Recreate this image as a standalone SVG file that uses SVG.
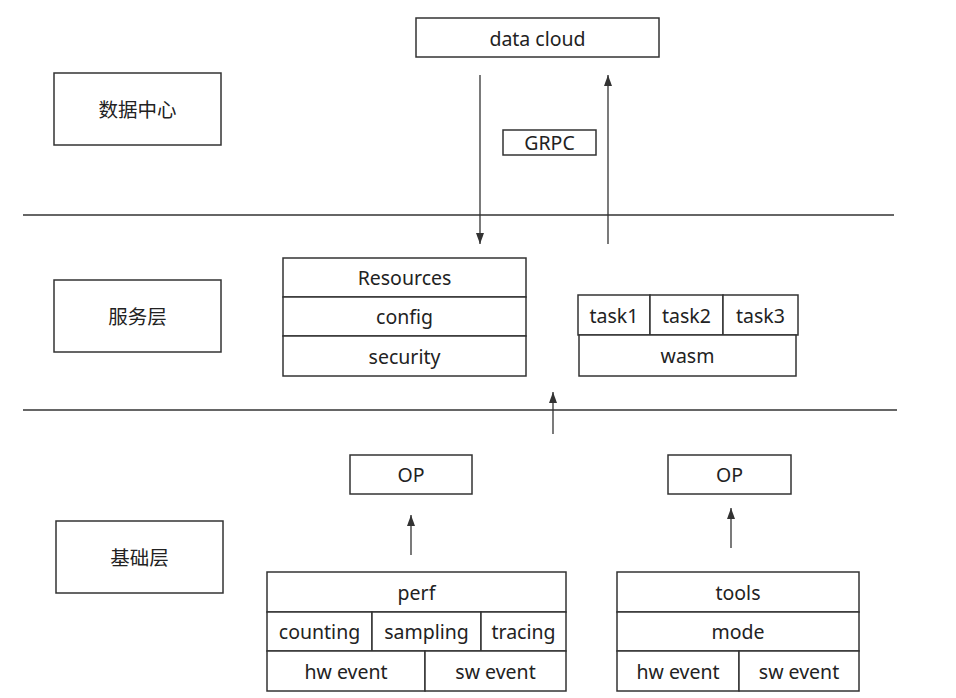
<svg xmlns="http://www.w3.org/2000/svg" width="956" height="698" viewBox="0 0 956 698">
<defs>
<marker id="ah" markerWidth="12" markerHeight="10" refX="11" refY="5" orient="auto" markerUnits="userSpaceOnUse" viewBox="0 0 12 10">
<path d="M0,1 L11,5 L0,9 Z" fill="#333"/>
</marker>
<style>
.b{fill:#fff;stroke:#333;stroke-width:1.5}
.t{font-family:"Noto Sans","Noto Sans CJK SC",sans-serif;font-size:19.5px;fill:#222;text-anchor:middle;dominant-baseline:central}
.l{stroke:#333;stroke-width:1.5;fill:none}
.a{stroke:#333;stroke-width:1.3;fill:none}
</style>
</defs>
<rect width="956" height="698" fill="#fff"/>
<g id="layers">
<line class="l" x1="23" y1="215" x2="894" y2="215"/>
<line class="l" x1="23" y1="410" x2="897" y2="410"/>
</g>
<g id="dc-label"><rect class="b" x="54" y="73" width="167" height="72"/><text class="t" x="137.5" y="109">数据中心</text></g>
<g id="svc-label"><rect class="b" x="54" y="280" width="167" height="72"/><text class="t" x="137.5" y="316">服务层</text></g>
<g id="base-label"><rect class="b" x="56" y="521" width="167" height="72"/><text class="t" x="139.5" y="557">基础层</text></g>
<g id="datacloud"><rect class="b" x="416" y="18" width="243" height="39"/><text class="t" x="537.5" y="38">data cloud</text></g>
<g id="grpc"><rect class="b" x="503" y="130" width="93" height="25"/><text class="t" x="549.5" y="142.5">GRPC</text></g>
<g id="resources">
<rect class="b" x="283" y="258" width="243" height="39"/><text class="t" x="404.5" y="277.5">Resources</text>
<rect class="b" x="283" y="297" width="243" height="39"/><text class="t" x="404.5" y="316.5">config</text>
<rect class="b" x="283" y="336" width="243" height="40"/><text class="t" x="404.5" y="356">security</text>
</g>
<g id="wasm">
<rect class="b" x="578" y="295" width="72" height="40"/><text class="t" x="614" y="315">task1</text>
<rect class="b" x="650" y="295" width="73" height="40"/><text class="t" x="686.5" y="315">task2</text>
<rect class="b" x="723" y="295" width="75" height="40"/><text class="t" x="760.5" y="315">task3</text>
<rect class="b" x="579" y="335" width="217" height="41"/><text class="t" x="687.5" y="355.5">wasm</text>
</g>
<g id="op1"><rect class="b" x="350" y="455" width="122" height="39"/><text class="t" x="411" y="474.5">OP</text></g>
<g id="op2"><rect class="b" x="668" y="455" width="123" height="39"/><text class="t" x="729.5" y="474.5">OP</text></g>
<g id="perf">
<rect class="b" x="267" y="572" width="299" height="40"/><text class="t" x="416.5" y="592">perf</text>
<rect class="b" x="267" y="612" width="105" height="39"/><text class="t" x="319.5" y="631.5">counting</text>
<rect class="b" x="372" y="612" width="109" height="39"/><text class="t" x="426.5" y="631.5">sampling</text>
<rect class="b" x="481" y="612" width="85" height="39"/><text class="t" x="523.5" y="631.5">tracing</text>
<rect class="b" x="267" y="651" width="158" height="40"/><text class="t" x="346" y="671">hw event</text>
<rect class="b" x="425" y="651" width="141" height="40"/><text class="t" x="495.5" y="671">sw event</text>
</g>
<g id="tools">
<rect class="b" x="617" y="572" width="242" height="40"/><text class="t" x="738" y="592">tools</text>
<rect class="b" x="617" y="612" width="242" height="39"/><text class="t" x="738" y="631.5">mode</text>
<rect class="b" x="617" y="651" width="122" height="40"/><text class="t" x="678" y="671">hw event</text>
<rect class="b" x="739" y="651" width="120" height="40"/><text class="t" x="799" y="671">sw event</text>
</g>
<g id="connectors">
<line class="a" x1="480" y1="75" x2="480" y2="244" marker-end="url(#ah)"/>
<line class="a" x1="608" y1="244" x2="608" y2="75" marker-end="url(#ah)"/>
<line class="a" x1="553" y1="434" x2="553" y2="392" marker-end="url(#ah)"/>
<line class="a" x1="411" y1="555" x2="411" y2="515" marker-end="url(#ah)"/>
<line class="a" x1="731" y1="548" x2="731" y2="508" marker-end="url(#ah)"/>
</g>
</svg>
